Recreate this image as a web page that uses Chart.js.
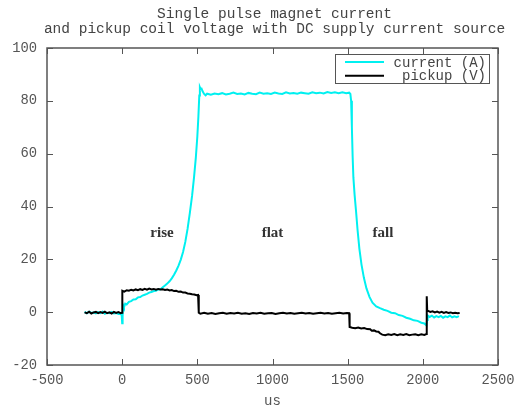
<!DOCTYPE html>
<html>
<head>
<meta charset="utf-8">
<script src="https://cdn.jsdelivr.net/npm/chart.js@4/dist/chart.umd.min.js"></script>
<style>
  html, body { margin: 0; padding: 0; background: #fff; }
  #wrap { width: 515px; height: 408px; }
</style>
</head>
<body>
<div id="wrap"><canvas id="pulse-chart"></canvas></div>
<script>
const titleLines = [
  'Single pulse magnet current',
  'and pickup coil voltage with DC supply current source',
];
const xAxisTitle = 'us';

// magnet current (A)
const currentTime = [
  -250, -235, -220, -205, -190, -175, -160, -145, -130, -115, -100, -85, -70, -55, -40, -25, -10, -3,
  0, 3, 6, 12, 20, 30, 45, 60, 75, 90, 105, 120, 135, 150, 165, 180, 195, 210, 225, 240, 255, 270,
  285, 300, 315, 330, 345, 360, 375, 390, 405, 420, 435, 450, 465, 478, 490, 500, 507, 513, 517,
  522, 528, 535, 545, 555, 565,
  590, 615, 640, 665, 690, 715, 740, 765, 790, 815, 840, 865, 890, 915, 940, 965, 990, 1015, 1040,
  1065, 1090, 1115, 1140, 1165, 1190, 1215, 1240, 1265, 1290, 1315, 1340, 1365, 1390, 1415, 1440,
  1465, 1490, 1510, 1518,
  1523, 1528, 1533, 1538, 1546, 1556, 1566, 1578, 1592, 1608, 1625, 1645, 1665, 1690, 1715, 1740,
  1765, 1790, 1815, 1840, 1865, 1890, 1915, 1940, 1965, 1990, 2010, 2024, 2028, 2032,
  2045, 2060, 2075, 2090, 2105, 2120, 2135, 2150, 2165, 2180, 2195, 2210, 2225, 2240,
];
const currentAmps = [
  0.1, -0.4, 0.2, -0.3, -0.1, -0.5, 0.0, -0.4, 0.2, -0.6, -0.2, -0.4, 0.1, -0.5, -0.3, -0.7, -0.6, -1.2,
  -4.2, -1.5, 2.6, 1.8, 3.2, 2.9, 3.9, 4.2, 4.8, 4.9, 5.6, 5.7, 6.3, 6.6, 6.9, 7.4, 7.6, 8.0, 8.1, 8.6, 8.7, 9.4,
  10.1, 10.8, 11.7, 12.8, 14.2, 15.8, 17.6, 19.9, 22.8, 26.6, 31.5, 37.5, 44.0, 51.0, 58.5, 66.5, 74.0, 82.0, 85.1,
  84.4, 84.6, 83.6, 82.6, 82.1, 82.7,
  82.3, 82.8, 82.5, 82.9, 82.4, 82.7, 83.1, 82.6, 82.8, 82.4, 83.0, 82.7, 82.5, 83.1, 82.7, 82.9, 82.6, 83.1, 82.8,
  82.6, 83.2, 82.8, 83.0, 82.7, 83.1, 82.9, 82.7, 83.2, 82.9, 83.1, 82.8, 83.3, 83.0, 83.2, 82.9,
  83.2, 82.9, 83.1, 82.6,
  80.0, 70.0, 59.0, 51.0, 44.5, 38.0, 31.0, 24.0, 18.0, 13.0, 9.0, 5.8, 3.6, 2.2, 1.5, 0.9,
  0.5, -0.2, -0.4, -1.1, -1.4, -2.1, -2.5, -3.1, -3.3, -4.0, -4.3, -5.0, -3.0, -1.2,
  -1.8, -1.3, -2.0, -1.5, -1.9, -1.4, -2.1, -1.6, -1.9, -1.3, -2.0, -1.6, -1.9, -1.5,
];

// pickup coil voltage (V)
const pickupTime = [
  -250, -235, -220, -205, -190, -175, -160, -145, -130, -115, -100, -85, -70, -55, -40, -25, -10, -1,
  1, 15, 30, 45, 60, 75, 90, 105, 120, 135, 150, 165, 180, 195, 210, 225, 240, 255, 270, 285, 300,
  315, 330, 345, 360, 375, 390, 405, 420, 435, 450, 465, 480, 495, 505, 508, 511, 520,
  545, 570, 595, 620, 645, 670, 695, 720, 745, 770, 795, 820, 845, 870, 895, 920, 945, 970, 995,
  1020, 1045, 1070, 1095, 1120, 1145, 1170, 1195, 1220, 1245, 1270, 1295, 1320, 1345, 1370, 1395,
  1420, 1445, 1470, 1495, 1510,
  1513, 1530, 1550, 1570, 1590, 1610, 1630, 1650, 1660, 1675, 1690, 1705, 1715, 1730, 1750, 1770,
  1790, 1810, 1830, 1850, 1870, 1890, 1910, 1930, 1950, 1970, 1990, 2010, 2024,
  2026, 2029, 2035, 2050, 2065, 2080, 2095, 2110, 2125, 2140, 2155, 2170, 2185, 2200, 2215, 2230, 2245,
];
const pickupVolts = [
  -0.1, -0.4, 0.2, -0.5, -0.1, 0.1, -0.4, 0.0, -0.3, 0.2, -0.4, -0.1, -0.5, 0.1, -0.3, 0.0, -0.4, -0.2,
  8.1, 7.8, 8.3, 8.1, 8.5, 8.2, 8.6, 8.3, 8.7, 8.4, 8.8, 8.5, 8.9, 8.6, 8.8, 8.5, 8.8, 8.6, 8.7, 8.4, 8.6,
  8.2, 8.4, 8.0, 8.1, 7.7, 7.8, 7.4, 7.4, 7.1, 7.0, 6.8, 6.7, 6.4, 6.5, 4.0, -0.2, -0.6,
  -0.2, -0.6, -0.3, -0.7, -0.4, -0.2, -0.6, -0.3, -0.5, -0.2, -0.6, -0.4, -0.7, -0.3, -0.5, -0.2, -0.6, -0.4, -0.3,
  -0.7, -0.4, -0.2, -0.5, -0.3, -0.6, -0.4, -0.2, -0.5, -0.3, -0.6, -0.4, -0.2, -0.5, -0.3, -0.6,
  -0.4, -0.2, -0.5, -0.3, -0.4,
  -5.6, -5.9, -6.1, -5.8, -6.2, -6.0, -6.4, -6.5, -7.0, -6.9, -7.3, -7.4, -8.0, -8.5, -8.7, -8.4,
  -8.6, -8.3, -8.7, -8.4, -8.6, -8.3, -8.7, -8.5, -8.4, -8.7, -8.4, -8.6, -8.3,
  6.0, 0.6, 0.5, 0.1, 0.3, -0.1, 0.2, -0.2, 0.1, -0.3, 0.0, -0.3, -0.1, -0.4, -0.2, -0.4, -0.3,
];

const regionNames = ['rise', 'flat', 'fall'];
const regionTime = [265, 1000, 1735];
const regionLevel = [30, 30, 30];

const monoFont = 'Liberation Mono, DejaVu Sans Mono, monospace';
const inkColor = '#555';

const toPoints = (xs, ys) => xs.map((x, i) => ({ x, y: ys[i] }));

// drop the label overhang so the plot box keeps its fixed size
const fixWidth = (w) => (scale) => {
  scale.width = w;
  scale.paddingTop = 0;
  scale.paddingBottom = 0;
};
const fixHeight = (h) => (scale) => {
  scale.height = h;
  scale.paddingLeft = 0;
  scale.paddingRight = 0;
};

// two line title, centred over the plot box rather than the canvas
const titlePlugin = {
  id: 'plotTitle',
  afterDraw(chart) {
    const { ctx, chartArea: a } = chart;
    ctx.save();
    ctx.font = `14.5px ${monoFont}`;
    ctx.fillStyle = '#444';
    ctx.textAlign = 'center';
    ctx.textBaseline = 'middle';
    titleLines.forEach((line, i) => {
      ctx.fillText(line, (a.left + a.right) / 2 + 2, 14 + i * 15);
    });
    ctx.restore();
  },
};

// box around the plot, with inward ticks on all four sides
const framePlugin = {
  id: 'frame',
  afterDatasetsDraw(chart) {
    const { ctx, chartArea: a, scales } = chart;
    ctx.save();
    ctx.strokeStyle = inkColor;
    ctx.lineWidth = 1;
    ctx.beginPath();
    scales.x.ticks.forEach((t) => {
      const px = Math.round(scales.x.getPixelForValue(t.value)) + 0.5;
      ctx.moveTo(px, a.bottom); ctx.lineTo(px, a.bottom - 6);
      ctx.moveTo(px, a.top); ctx.lineTo(px, a.top + 6);
    });
    scales.y.ticks.forEach((t) => {
      const py = Math.round(scales.y.getPixelForValue(t.value)) + 0.5;
      ctx.moveTo(a.left, py); ctx.lineTo(a.left + 6, py);
      ctx.moveTo(a.right, py); ctx.lineTo(a.right - 6, py);
    });
    ctx.stroke();
    ctx.lineWidth = 1.5;
    ctx.strokeRect(a.left, a.top, a.right - a.left, a.bottom - a.top);
    ctx.restore();
  },
};

// gnuplot style key, text right aligned after the sample line
const keyPlugin = {
  id: 'keyBox',
  afterDraw(chart) {
    const { ctx, chartArea: a } = chart;
    const right = a.right - 9;
    const left = right - 154;
    const top = a.top + 6;
    const rowH = 13.7;
    ctx.save();
    ctx.fillStyle = '#fff';
    ctx.fillRect(left, top, right - left, 29);
    ctx.strokeStyle = inkColor;
    ctx.lineWidth = 1;
    ctx.strokeRect(left + 0.5, top + 0.5, right - left, 29);
    ctx.font = `14px ${monoFont}`;
    ctx.textAlign = 'right';
    ctx.textBaseline = 'middle';
    chart.data.datasets.forEach((ds, i) => {
      const y = top + 8 + i * rowH;
      ctx.strokeStyle = ds.borderColor;
      ctx.lineWidth = 2;
      ctx.beginPath();
      ctx.moveTo(left + 10, y);
      ctx.lineTo(left + 49, y);
      ctx.stroke();
      ctx.fillStyle = '#444';
      ctx.fillText(ds.label, right - 3, y + 1);
    });
    ctx.restore();
  },
};

const regionPlugin = {
  id: 'regionLabels',
  afterDatasetsDraw(chart) {
    const { ctx, scales } = chart;
    ctx.save();
    ctx.font = 'bold 15px Liberation Serif, DejaVu Serif, serif';
    ctx.fillStyle = '#333';
    ctx.textAlign = 'center';
    ctx.textBaseline = 'middle';
    regionNames.forEach((name, i) => {
      ctx.fillText(name, scales.x.getPixelForValue(regionTime[i]), scales.y.getPixelForValue(regionLevel[i]));
    });
    ctx.restore();
  },
};

new Chart(document.getElementById('pulse-chart'), {
  type: 'line',
  data: {
    datasets: [
      {
        label: 'current (A)',
        data: toPoints(currentTime, currentAmps),
        borderColor: '#00f0f0',
        borderWidth: 2,
        pointRadius: 0,
        tension: 0,
        order: 1,
      },
      {
        label: 'pickup (V)',
        data: toPoints(pickupTime, pickupVolts),
        borderColor: '#000',
        borderWidth: 2,
        pointRadius: 0,
        tension: 0,
        order: 0,
      },
    ],
  },
  options: {
    responsive: true,
    maintainAspectRatio: false,
    animation: false,
    layout: { padding: { left: 0, right: 17, top: 48, bottom: 0 } },
    scales: {
      x: {
        type: 'linear',
        min: -500,
        max: 2500,
        afterFit: fixHeight(43),
        ticks: {
          stepSize: 500,
          color: inkColor,
          padding: 7,
          maxRotation: 0,
          font: { family: monoFont, size: 13.8 },
          callback: (value) => String(value),
        },
        grid: { display: false, drawTicks: false },
        border: { display: false },
        title: {
          display: true,
          text: xAxisTitle,
          color: inkColor,
          padding: 0,
          font: { family: monoFont, size: 14, lineHeight: 1 },
        },
      },
      y: {
        min: -20,
        max: 100,
        afterFit: fixWidth(47),
        ticks: {
          stepSize: 20,
          color: inkColor,
          padding: 10,
          font: { family: monoFont, size: 13.8 },
          callback: (value) => String(value),
        },
        grid: { display: false, drawTicks: false },
        border: { display: false },
      },
    },
    plugins: {
      legend: { display: false },
      tooltip: { enabled: false },
      title: { display: false },
    },
  },
  plugins: [framePlugin, regionPlugin, keyPlugin, titlePlugin],
});
</script>
</body>
</html>
